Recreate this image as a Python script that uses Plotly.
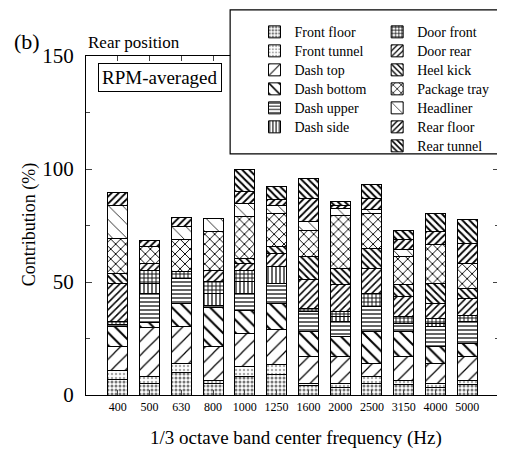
import plotly.graph_objects as go

freqs = ["400", "500", "630", "800", "1000", "1250", "1600", "2000", "2500", "3150", "4000", "5000"]

front_floor = [7, 5, 10, 5, 8, 9, 4, 3.5, 5, 4.5, 3.5, 4.5]
front_tunnel = [4, 3, 4, 1.6, 4.5, 4.3, 1.2, 1.7, 3, 2.1, 1.7, 2.1]
dash_top = [10.4, 22, 16.2, 14.8, 14.9, 15.5, 11.8, 11.8, 6, 10.4, 8.8, 10.4]
dash_bottom = [8.8, 2, 10.3, 17.2, 10.2, 11.8, 11, 8.8, 14, 11, 7.4, 5.9]
dash_upper = [1, 13, 11.1, 1, 7.4, 8.8, 8.9, 6.6, 11, 3.7, 8.8, 9.5]
dash_side = [0, 4.4, 0, 5.4, 5.1, 7.4, 0, 2.2, 0, 0, 1.5, 0]
door_front = [1.2, 5.9, 3, 5.1, 5.2, 0, 1.5, 2.3, 6, 2.9, 2.2, 3]
door_rear = [17, 3, 0, 5.2, 3, 5.9, 12.5, 11.8, 11, 8.9, 6.7, 7.4]
heel_kick = [4.4, 0, 0, 0, 2, 3, 10.3, 7.3, 8.9, 5.2, 8.8, 4.4]
package_tray = [15.5, 7.3, 14, 17, 18.6, 14.7, 11.8, 23.6, 15.5, 12.5, 17, 11.1]
headliner = [14.7, 0, 6, 5.9, 5.9, 3.6, 3.7, 3, 1.5, 3, 0, 0]
rear_floor = [5.7, 2.7, 3.9, 0, 5.2, 2.3, 10.3, 1.4, 5.1, 4.4, 5.9, 8.8]
rear_tunnel = [0, 0, 0, 0, 9.8, 5.9, 8.9, 1.5, 6.2, 4.4, 7.8, 10.6]

series = [
    ("Front floor", front_floor, dict(shape=".", fgcolor="#777", size=4, solidity=0.45), "legend"),
    ("Front tunnel", front_tunnel, dict(shape=".", fgcolor="#aaa", size=4, solidity=0.3), "legend"),
    ("Dash top", dash_top, dict(shape="/", fgcolor="black", size=10, solidity=0.12), "legend"),
    ("Dash bottom", dash_bottom, dict(shape="\\", fgcolor="black", size=9, solidity=0.22), "legend"),
    ("Dash upper", dash_upper, dict(shape="-", fgcolor="black", size=4, solidity=0.3), "legend"),
    ("Dash side", dash_side, dict(shape="|", fgcolor="black", size=4, solidity=0.3), "legend"),
    ("Door front", door_front, dict(shape="+", fgcolor="black", size=4, solidity=0.4), "legend2"),
    ("Door rear", door_rear, dict(shape="/", fgcolor="black", size=5, solidity=0.3), "legend2"),
    ("Heel kick", heel_kick, dict(shape="\\", fgcolor="black", size=5, solidity=0.35), "legend2"),
    ("Package tray", package_tray, dict(shape="x", fgcolor="black", size=7, solidity=0.25), "legend2"),
    ("Headliner", headliner, dict(shape="\\", fgcolor="black", size=10, solidity=0.08), "legend2"),
    ("Rear floor", rear_floor, dict(shape="/", fgcolor="black", size=5, solidity=0.35), "legend2"),
    ("Rear tunnel", rear_tunnel, dict(shape="\\", fgcolor="black", size=5, solidity=0.4), "legend2"),
]

xpos = list(range(len(freqs)))

fig = go.Figure()
for name, vals, pat, leg in series:
    fig.add_trace(go.Bar(
        x=xpos, y=vals, name='<span style="font-size:14px">' + name + '</span>',
        width=0.63, legend=leg,
        marker=dict(color="white", line=dict(color="black", width=1),
                    pattern=dict(bgcolor="white", fillmode="replace", **pat)),
    ))

font = "Liberation Serif"
leg_common = dict(yanchor="top", xanchor="left", traceorder="normal", bgcolor="rgba(0,0,0,0)",
                  font=dict(size=12, family=font), itemwidth=30, tracegroupgap=0)
# page body has an 8px default margin; figure is sized so the plot lands where the reference has it
fig.update_layout(
    width=497, height=442, barmode="stack",
    margin=dict(l=78, r=6, t=48, b=55, autoexpand=False),
    plot_bgcolor="white", paper_bgcolor="white",
    font=dict(family=font, color="black"),
    showlegend=True,
    legend=dict(x=0.408, y=1.114, **leg_common),
    legend2=dict(x=0.705, y=1.114, **leg_common),
    xaxis=dict(range=[-1, 12], tickvals=xpos, ticktext=freqs, ticks="inside", ticklen=5,
               showline=True, linecolor="black", linewidth=1.2, mirror="ticks",
               showgrid=False, zeroline=False, tickfont=dict(size=12, family=font)),
    yaxis=dict(range=[0, 150], tickvals=[0, 50, 100, 150], ticks="inside", ticklen=6,
               showline=True, linecolor="black", linewidth=1.2, mirror="ticks",
               showgrid=False, zeroline=False, tickfont=dict(size=21, family=font),
               ticklabelstandoff=7,
               minor=dict(dtick=25, ticks="inside", ticklen=4, showgrid=False)),
    shapes=[dict(type="rect", xref="paper", yref="paper", x0=0.349, x1=1.0097, y0=0.711, y1=1.136,
                 fillcolor="white", line=dict(color="black", width=1.2), layer="above")],
    annotations=[
        dict(text="(b)", xref="paper", yref="paper", x=-0.144, y=1.044, xanchor="center", yanchor="middle",
             showarrow=False, font=dict(size=22, family=font)),
        dict(text="Rear position", xref="paper", yref="paper", x=0.116, y=1.041, xanchor="center",
             yanchor="middle", showarrow=False, font=dict(size=17, family=font)),
        dict(text="RPM-averaged", xref="paper", yref="paper", x=0.178, y=0.938, xanchor="center",
             yanchor="middle", showarrow=False,
             font=dict(size=19, family=font), bordercolor="black", borderwidth=1, borderpad=3),
        dict(text="1/3 octave band center frequency (Hz)", xref="paper", yref="paper", x=0.508, y=-0.127,
             xanchor="center", yanchor="middle", showarrow=False, font=dict(size=19, family=font)),
        dict(text="Contribution (%)", xref="paper", yref="paper", x=-0.138, y=0.504, textangle=-90,
             xanchor="center", yanchor="middle", showarrow=False, font=dict(size=18, family=font)),
    ],
)

fig.write_html("out.html")
